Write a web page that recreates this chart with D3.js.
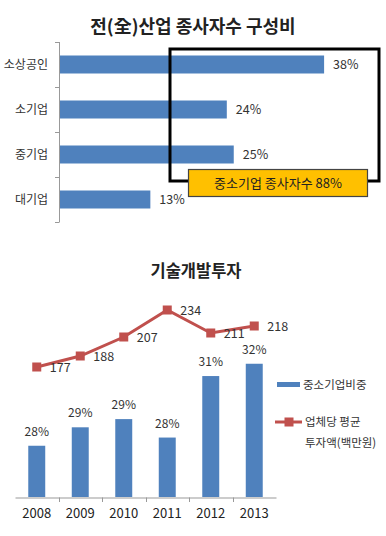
<!DOCTYPE html>
<html><head><meta charset="utf-8">
<script src="https://cdn.jsdelivr.net/npm/d3@7"></script>
<style>
html,body{margin:0;padding:0;background:#fff;}
svg{display:block;font-family:"Noto Sans CJK KR","Noto Sans",sans-serif;}
</style></head>
<body>
<svg id="c" width="386" height="536"></svg>
<script>
// ---- Data ----
const topTitle = "전(全)산업 종사자수 구성비";
const topCategories = ["소상공인", "소기업", "중기업", "대기업"];
const topValues = [38, 24, 25, 13];
const topNote = "중소기업 종사자수 88%";

const bottomTitle = "기술개발투자";
const years = ["2008", "2009", "2010", "2011", "2012", "2013"];
const shareValues = [28.0, 28.9, 29.3, 28.4, 31.4, 32.0];
const investValues = [177, 188, 207, 234, 211, 218];
const legendLabels = ["중소기업비중", "업체당 평균", "투자액(백만원)"];

const BLUE = "#4F81BD", RED = "#C0504D", TXT = "#333";
const svg = d3.select("#c");

// ---- Top chart ----
svg.append("text").attr("x", 193).attr("y", 33).attr("text-anchor", "middle")
  .attr("font-size", 18).attr("font-weight", "bold").attr("fill", "#222").text(topTitle);

const xT = d3.scaleLinear().domain([0, 40]).range([60, 338]);
const yT = d3.scaleBand().domain(topCategories).range([42, 222]).paddingInner(0.6).paddingOuter(0.3);

// axis line + boundary ticks
const gT = svg.append("g");
gT.append("line").attr("x1", 59.5).attr("x2", 59.5).attr("y1", 42).attr("y2", 222)
  .attr("stroke", "#999").attr("stroke-width", 1);
const bounds = d3.range(topCategories.length + 1).map(i => 42 + i * yT.step());
gT.selectAll(".tk").data(bounds).join("line")
  .attr("x1", 55).attr("x2", 59.5).attr("y1", d => Math.round(d) + 0.5).attr("y2", d => Math.round(d) + 0.5)
  .attr("stroke", "#999");
gT.selectAll(".cl").data(topCategories).join("text")
  .attr("x", 48).attr("y", d => yT(d) + yT.bandwidth() / 2).attr("dy", "0.35em")
  .attr("text-anchor", "end").attr("font-size", 12).attr("fill", TXT).text(d => d);

gT.selectAll(".bar").data(topValues).join("rect")
  .attr("x", xT(0)).attr("y", (d, i) => yT(topCategories[i]))
  .attr("width", d => xT(d) - xT(0)).attr("height", yT.bandwidth()).attr("fill", BLUE);
gT.selectAll(".vl").data(topValues).join("text")
  .attr("x", d => xT(d) + 9).attr("y", (d, i) => yT(topCategories[i]) + yT.bandwidth() / 2).attr("dy", "0.35em")
  .attr("font-size", 12.5).attr("fill", TXT).text(d => d + "%");

// annotation box
svg.append("rect").attr("x", 170).attr("y", 49).attr("width", 209).attr("height", 132)
  .attr("fill", "none").attr("stroke", "#000").attr("stroke-width", 3);
svg.append("rect").attr("x", 188.5).attr("y", 169.5).attr("width", 179).attr("height", 27)
  .attr("fill", "#FFC000").attr("stroke", "#444").attr("stroke-width", 1.2);
svg.append("text").attr("x", 278).attr("y", 183).attr("dy", "0.35em").attr("text-anchor", "middle")
  .attr("font-size", 13).attr("fill", "#222").text(topNote);

// ---- Bottom chart ----
svg.append("text").attr("x", 196).attr("y", 277).attr("text-anchor", "middle")
  .attr("font-size", 16.5).attr("font-weight", "bold").attr("fill", "#222").text(bottomTitle);

const xB = d3.scaleBand().domain(years).range([15, 276]).paddingInner(0.61).paddingOuter(0.305);
const yBar = d3.scaleLinear().domain([25.5, 32]).range([497, 363.75]);
const yLine = d3.scaleLinear().domain([150, 250]).range([394, 294]);

const gB = svg.append("g");
gB.selectAll(".b").data(shareValues).join("rect")
  .attr("x", (d, i) => xB(years[i])).attr("y", d => yBar(d))
  .attr("width", xB.bandwidth()).attr("height", d => 497 - yBar(d)).attr("fill", BLUE);
gB.selectAll(".bl").data(shareValues).join("text")
  .attr("x", (d, i) => xB(years[i]) + xB.bandwidth() / 2).attr("y", d => yBar(d) - 10)
  .attr("text-anchor", "middle").attr("font-size", 12).attr("fill", TXT).text(d => Math.round(d) + "%");

// x axis
const ax = gB.append("g").attr("transform", "translate(0,497.5)")
  .call(d3.axisBottom(xB).tickSize(0).tickPadding(11));
ax.select(".domain").attr("stroke", "#999");
ax.selectAll("text").attr("font-size", 13).attr("fill", "#222")
  .attr("font-family", "\"Noto Sans CJK KR\",sans-serif");
const bBounds = d3.range(1, years.length).map(i => 15 + i * xB.step());
gB.selectAll(".xt").data(bBounds).join("line")
  .attr("x1", d => Math.round(d) + 0.5).attr("x2", d => Math.round(d) + 0.5)
  .attr("y1", 497.5).attr("y2", 502).attr("stroke", "#999");

// line series
const cx = (d, i) => xB(years[i]) + xB.bandwidth() / 2;
const line = d3.line().x(cx).y(d => yLine(d));
gB.append("path").datum(investValues).attr("d", line)
  .attr("fill", "none").attr("stroke", RED).attr("stroke-width", 3);
gB.selectAll(".m").data(investValues).join("rect")
  .attr("x", (d, i) => cx(d, i) - 4.5).attr("y", d => yLine(d) - 4.5)
  .attr("width", 9).attr("height", 9).attr("fill", RED);
gB.selectAll(".ml").data(investValues).join("text")
  .attr("x", (d, i) => cx(d, i) + 13).attr("y", d => yLine(d)).attr("dy", "0.4em")
  .attr("font-size", 12.5).attr("fill", TXT).text(d => d);

// legend
const lg = svg.append("g");
lg.append("rect").attr("x", 277).attr("y", 382).attr("width", 23).attr("height", 5).attr("fill", BLUE);
lg.append("text").attr("x", 303).attr("y", 384.5).attr("dy", "0.35em").attr("font-size", 11.5)
  .attr("fill", TXT).text(legendLabels[0]);
lg.append("line").attr("x1", 275).attr("x2", 302).attr("y1", 422).attr("y2", 422)
  .attr("stroke", RED).attr("stroke-width", 3);
lg.append("rect").attr("x", 284.5).attr("y", 417.5).attr("width", 9).attr("height", 9).attr("fill", RED);
lg.append("text").attr("x", 305).attr("y", 422).attr("dy", "0.35em").attr("font-size", 11.5)
  .attr("fill", TXT).text(legendLabels[1]);
lg.append("text").attr("x", 305).attr("y", 443).attr("dy", "0.35em").attr("font-size", 11.5)
  .attr("fill", TXT).text(legendLabels[2]);
</script>
</body></html>
